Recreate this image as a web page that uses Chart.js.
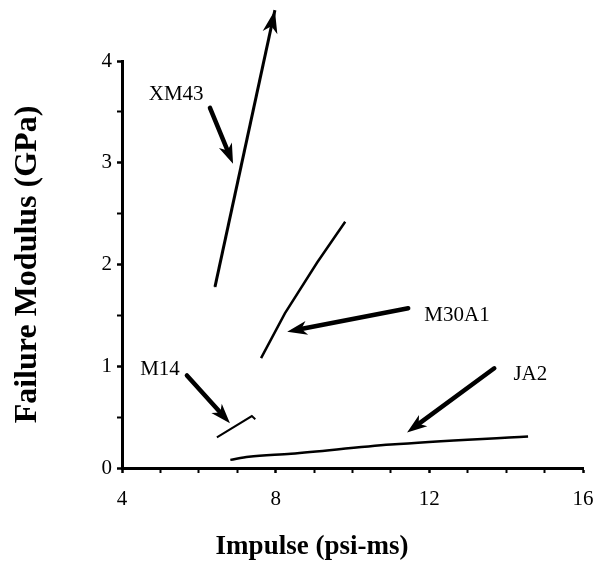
<!DOCTYPE html>
<html>
<head>
<meta charset="utf-8">
<script src="https://cdn.jsdelivr.net/npm/chart.js@4.4.1/dist/chart.umd.min.js"></script>
<style>
  html, body { margin: 0; padding: 0; background: #fff; }
  #wrap { width: 615px; height: 565px; }
</style>
</head>
<body>
<div id="wrap"><canvas id="modulus-chart"></canvas></div>
<script>
// curves: impulse (psi-ms) against failure modulus (GPa)
const xm43Impulse = [6.42, 7.98];
const xm43Modulus = [1.78, 4.5];
const m30a1Impulse = [7.62, 8.24, 9.08, 9.81];
const m30a1Modulus = [1.08, 1.52, 2.02, 2.42];
const m14Impulse = [6.47, 7.38, 7.47];
const m14Modulus = [0.30, 0.51, 0.48];
const ja2Impulse = [6.82, 7.3, 8.4, 11.0, 14.57];
const ja2Modulus = [0.08, 0.11, 0.14, 0.23, 0.31];

const xTickLabels = [4, 8, 12, 16];
const yTickLabels = [0, 1, 2, 3, 4];

// callouts: label text, where the label sits, and arrow start / end (data units)
const calloutNames = ["XM43", "M30A1", "M14", "JA2"];
const calloutAt = [[5.41, 3.67], [12.72, 1.50], [4.99, 0.97], [14.63, 0.92]];
const calloutFrom = [[6.29, 3.54], [11.45, 1.57], [5.69, 0.91], [13.69, 0.98]];
const calloutTo = [[6.89, 2.99], [8.30, 1.34], [6.81, 0.44], [11.42, 0.35]];

const SERIF = '"Liberation Serif", "DejaVu Serif", serif';

function toPoints(xs, ys) {
    return xs.map((x, i) => ({ x: x, y: ys[i] }));
}

function drawArrow(ctx, x1, y1, x2, y2, width, headLen, headWidth) {
    const ang = Math.atan2(y2 - y1, x2 - x1);
    ctx.save();
    ctx.strokeStyle = "#000";
    ctx.fillStyle = "#000";
    ctx.lineWidth = width;
    ctx.lineCap = "round";
    ctx.beginPath();
    ctx.moveTo(x1, y1);
    ctx.lineTo(x2 - Math.cos(ang) * headLen * 0.7, y2 - Math.sin(ang) * headLen * 0.7);
    ctx.stroke();
    ctx.translate(x2, y2);
    ctx.rotate(ang);
    ctx.beginPath();
    ctx.moveTo(0, 0);
    ctx.lineTo(-headLen, -headWidth / 2);
    ctx.lineTo(-headLen * 0.72, 0);
    ctx.lineTo(-headLen, headWidth / 2);
    ctx.closePath();
    ctx.fill();
    ctx.restore();
}

const calloutPlugin = {
    id: "callouts",
    afterDatasetsDraw(chart) {
        const ctx = chart.ctx;
        const xs = chart.scales.x;
        const ys = chart.scales.y;

        // arrow head on the end of the XM43 curve
        const pts = chart.getDatasetMeta(0).data;
        const a = pts[pts.length - 2];
        const b = pts[pts.length - 1];
        drawArrow(ctx, a.x, a.y, b.x, b.y, 0, 23, 15);

        ctx.save();
        ctx.font = "21px " + SERIF;
        ctx.fillStyle = "#000";
        ctx.textAlign = "center";
        ctx.textBaseline = "middle";
        calloutNames.forEach((name, i) => {
            ctx.fillText(name, xs.getPixelForValue(calloutAt[i][0]), ys.getPixelForValue(calloutAt[i][1]));
            drawArrow(ctx,
                xs.getPixelForValue(calloutFrom[i][0]), ys.getPixelForValue(calloutFrom[i][1]),
                xs.getPixelForValue(calloutTo[i][0]), ys.getPixelForValue(calloutTo[i][1]),
                4.5, 20, 14);
        });

        // x axis title sits left of centre in the original
        ctx.font = "bold 27px " + SERIF;
        ctx.fillText("Impulse (psi-ms)", chart.chartArea.left + 190, chart.height - 18);
        ctx.restore();
    },
};

const lineSet = (label, xs, ys, width, extra) => Object.assign({
    label: label,
    data: toPoints(xs, ys),
    showLine: true,
    borderColor: "#000",
    backgroundColor: "#000",
    borderWidth: width,
    pointRadius: 0,
    clip: false,
}, extra || {});

new Chart(document.getElementById("modulus-chart"), {
    type: "scatter",
    data: {
        datasets: [
            lineSet("XM43", xm43Impulse, xm43Modulus, 3),
            lineSet("M30A1", m30a1Impulse, m30a1Modulus, 2.5),
            lineSet("M14", m14Impulse, m14Modulus, 2),
            lineSet("JA2", ja2Impulse, ja2Modulus, 2.5, { cubicInterpolationMode: "monotone" }),
        ],
    },
    options: {
        responsive: true,
        maintainAspectRatio: false,
        animation: false,
        layout: { padding: { top: 61, right: 32, left: 0, bottom: 0 } },
        plugins: {
            legend: { display: false },
            tooltip: { enabled: false },
        },
        scales: {
            x: {
                type: "linear",
                min: 4,
                max: 16,
                afterFit: (s) => { s.height = 97; },
                ticks: {
                    stepSize: 1,
                    autoSkip: false,
                    maxRotation: 0,
                    color: "#000",
                    padding: 14,
                    font: { family: SERIF, size: 21 },
                    callback: (v) => (xTickLabels.includes(v) ? v : ""),
                },
                grid: {
                    drawOnChartArea: false,
                    drawTicks: true,
                    tickLength: 5,
                    color: "#000",
                    tickWidth: (c) => (c.tick && xTickLabels.includes(c.tick.value) ? 2.5 : 2),
                },
                border: { color: "#000", width: 3 },
            },
            y: {
                min: 0,
                max: 4,
                afterFit: (s) => { s.width = 122; },
                ticks: {
                    stepSize: 0.5,
                    autoSkip: false,
                    color: "#000",
                    padding: 5,
                    font: { family: SERIF, size: 21 },
                    callback: (v) => (yTickLabels.includes(v) ? v : ""),
                },
                grid: {
                    drawOnChartArea: false,
                    drawTicks: true,
                    tickLength: 5,
                    color: "#000",
                    tickWidth: (c) => (c.tick && yTickLabels.includes(c.tick.value) ? 2.5 : 2),
                },
                border: { color: "#000", width: 3 },
                title: {
                    display: true,
                    text: "Failure Modulus (GPa)",
                    color: "#000",
                    font: { family: SERIF, size: 32, weight: "bold", lineHeight: 1 },
                    padding: { top: 12, bottom: 0 },
                },
            },
        },
    },
    plugins: [calloutPlugin],
});
</script>
</body>
</html>
